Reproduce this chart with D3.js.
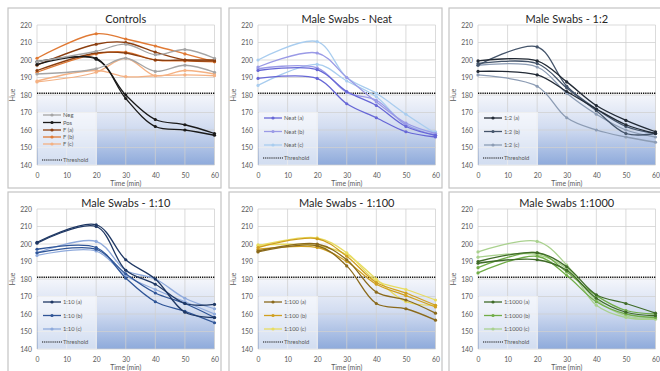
<!DOCTYPE html>
<html>
<head>
<meta charset="utf-8">
<script src="https://cdn.jsdelivr.net/npm/d3@7"></script>
<style>
  body { margin: 0; background: #fff; }
  svg { display: block; font-family: Lato, "Liberation Sans", Arial, sans-serif; }
</style>
</head>
<body>
<div id="chart"></div>
<script>
// Sampling times and axis ticks
const times = [0, 20, 30, 40, 50, 60];
const xTicks = [0, 10, 20, 30, 40, 50, 60];
const yTicks = [140, 150, 160, 170, 180, 190, 200, 210, 220];
const threshold = 181;

// Panel titles
const titles = ["Controls", "Male Swabs - Neat", "Male Swabs - 1:2",
                "Male Swabs - 1:10", "Male Swabs - 1:100", "Male Swabs 1:1000"];

// Legend labels per panel
const controlsNames = ["Neg", "Pos", "F (a)", "F (b)", "F (c)"];
const neatNames = ["Neat (a)", "Neat (b)", "Neat (c)"];
const half2Names = ["1:2 (a)", "1:2 (b)", "1:2 (c)"];
const tenNames = ["1:10 (a)", "1:10 (b)", "1:10 (c)"];
const hundredNames = ["1:100 (a)", "1:100 (b)", "1:100 (c)"];
const thousandNames = ["1:1000 (a)", "1:1000 (b)", "1:1000 (c)"];

// Colours per sample
const controlsColors = ["#a5a5a5", "#1a1a1a", "#8c3f10", "#e07a35", "#f4b183"];
const neatColors = ["#6767d6", "#9a9ae6", "#a9cdef"];
const half2Colors = ["#222a35", "#44546a", "#8c9cb4"];
const tenColors = ["#1f3864", "#2f5597", "#8faadc"];
const hundredColors = ["#8a6a1c", "#d0a020", "#e8dc60"];
const thousandColors = ["#3f6b28", "#70ad47", "#a9d18e"];

// Hue values, two replicates per sample
const controlsValues = [
  [[192, 195, 201, 193.5, 197, 193], [199, 205, 209, 203, 206, 201]],
  [[199, 200.5, 180, 166, 163, 158], [197.5, 201, 178, 162, 160, 157]],
  [[197, 209, 210, 204.5, 200, 199.5], [194, 204, 204, 200, 200, 200]],
  [[201, 215, 212, 208, 203.5, 199], [193, 203.5, 204.5, 200, 199.5, 199]],
  [[187.5, 193, 201, 191, 194, 192], [188, 194, 190.5, 191, 191.5, 191]]
];
const neatValues = [
  [[194, 194.5, 182, 174, 162, 157], [189.5, 189.5, 175, 167, 159, 156]],
  [[196, 204, 190, 176, 164, 158], [195, 195.5, 181.5, 177, 163, 157]],
  [[200, 210.5, 190, 181, 169, 158], [185.5, 197.5, 188, 179, 163, 159]]
];
const half2Values = [
  [[199.5, 199.5, 187.5, 174, 165.5, 159], [193.5, 191.5, 182, 172, 163, 158]],
  [[197, 207.5, 185, 172, 162, 158], [198, 198, 184, 171, 158, 158]],
  [[191.5, 185, 167, 160, 156, 153], [197, 196, 181, 169, 160, 156]]
];
const tenValues = [
  [[201, 211, 191, 180, 161, 158], [200.5, 210, 185, 177, 166, 165.5]],
  [[197, 198, 180.5, 167, 161.5, 155], [195, 197, 183, 172, 166, 158]],
  [[195, 201.5, 185, 180, 169, 163], [193.5, 196, 182, 174, 167, 160]]
];
const hundredValues = [
  [[196, 200, 191, 172.5, 168, 160.5], [195.5, 199, 187.5, 166, 163, 156.5]],
  [[198, 203, 193, 178, 172, 165], [197, 198, 190, 177, 170.5, 164]],
  [[199, 203.5, 195, 179, 174, 168], [199.5, 199, 194, 180, 167, 165]]
];
const thousandValues = [
  [[190, 195, 187, 171, 166, 160.5], [189, 191, 185, 169, 161, 159]],
  [[186.5, 195, 184, 170.5, 162, 160], [183.5, 193, 182, 167, 160, 158]],
  [[195.5, 201.5, 188, 165, 158, 157], [192.5, 194, 186, 168, 159, 157.5]]
];

const panels = [
  { names: controlsNames, colors: controlsColors, values: controlsValues },
  { names: neatNames, colors: neatColors, values: neatValues },
  { names: half2Names, colors: half2Colors, values: half2Values },
  { names: tenNames, colors: tenColors, values: tenValues },
  { names: hundredNames, colors: hundredColors, values: hundredValues },
  { names: thousandNames, colors: thousandColors, values: thousandValues }
];

const W = 660, H = 371;
const colX = [8, 229, 449], rowY = [8, 192];
const panelW = 213, panelH = 180;
const plotLeft = 29, plotW = 177.5, plotTop = 17, plotH = 140;

const svg = d3.select("#chart").append("svg")
    .attr("width", W)
    .attr("height", H);

// Gradient for the region below the threshold
const defs = svg.append("defs");
const grad = defs.append("linearGradient")
    .attr("id", "belowGrad")
    .attr("x1", 0).attr("y1", 0).attr("x2", 0).attr("y2", 1);
grad.append("stop").attr("offset", "0%").attr("stop-color", "#f4f6fb");
grad.append("stop").attr("offset", "45%").attr("stop-color", "#d3ddf1");
grad.append("stop").attr("offset", "100%").attr("stop-color", "#8eaadb");

const x = d3.scaleLinear().domain([0, 60]).range([0, plotW]);
const y = d3.scaleLinear().domain([140, 220]).range([plotH, 0]);

const line = d3.line()
    .x((d, i) => x(times[i]))
    .y(d => y(d))
    .curve(d3.curveCatmullRom.alpha(0.5));

panels.forEach((p, idx) => {
  const px = colX[idx % 3], py = rowY[Math.floor(idx / 3)];
  const panel = svg.append("g").attr("transform", "translate(" + px + "," + py + ")");

  // Panel frame
  panel.append("rect")
      .attr("x", 0).attr("y", 0)
      .attr("width", panelW).attr("height", panelH)
      .attr("fill", "#fff")
      .attr("stroke", "#c4c4c4")
      .attr("stroke-width", 1.2);

  panel.append("text")
      .attr("x", plotLeft + plotW / 2)
      .attr("y", 14.5)
      .attr("text-anchor", "middle")
      .attr("font-size", 11)
      .attr("fill", "#262626")
      .text(titles[idx]);

  const g = panel.append("g").attr("transform", "translate(" + plotLeft + "," + plotTop + ")");

  // Shaded area under 180
  g.append("rect")
      .attr("x", 0).attr("y", y(180))
      .attr("width", plotW).attr("height", y(140) - y(180))
      .attr("fill", "url(#belowGrad)");

  // Gridlines
  g.append("g").selectAll("line.h")
      .data(yTicks).enter().append("line")
      .attr("x1", 0).attr("x2", plotW)
      .attr("y1", d => y(d)).attr("y2", d => y(d))
      .attr("stroke", "#d0d0d0").attr("stroke-opacity", 0.85).attr("stroke-width", 0.9);
  g.append("g").selectAll("line.v")
      .data(xTicks).enter().append("line")
      .attr("y1", 0).attr("y2", plotH)
      .attr("x1", d => x(d)).attr("x2", d => x(d))
      .attr("stroke", "#d0d0d0").attr("stroke-opacity", 0.85).attr("stroke-width", 0.9);

  // Axes (labels only)
  const yAxis = g.append("g").call(d3.axisLeft(y).tickValues(yTicks).tickSize(0).tickPadding(5));
  const xAxis = g.append("g").attr("transform", "translate(0," + plotH + ")")
      .call(d3.axisBottom(x).tickValues(xTicks).tickSize(0).tickPadding(8));
  [yAxis, xAxis].forEach(a => {
    a.select(".domain").remove();
    a.selectAll("text").attr("font-size", 6.8).attr("fill", "#595959")
        .attr("font-family", "Lato, Liberation Sans, Arial, sans-serif");
  });

  g.append("text")
      .attr("x", plotW / 2).attr("y", plotH + 21)
      .attr("text-anchor", "middle")
      .attr("font-size", 6.8).attr("fill", "#595959")
      .text("Time (min)");
  g.append("text")
      .attr("transform", "translate(-22," + (plotH / 2) + ") rotate(-90)")
      .attr("text-anchor", "middle")
      .attr("font-size", 6.8).attr("fill", "#595959")
      .text("Hue");

  // Threshold
  g.append("line")
      .attr("x1", 0).attr("x2", plotW)
      .attr("y1", y(threshold)).attr("y2", y(threshold))
      .attr("stroke", "#111").attr("stroke-width", 1.5)
      .attr("stroke-dasharray", "1.3,0.9");

  // Series, drawn last sample first
  for (let s = p.values.length - 1; s >= 0; s--) {
    p.values[s].forEach(rep => {
      g.append("path")
          .datum(rep)
          .attr("d", line)
          .attr("fill", "none")
          .attr("stroke", p.colors[s])
          .attr("stroke-width", 1.3);
      g.append("g").selectAll("circle")
          .data(rep).enter().append("circle")
          .attr("cx", (d, i) => x(times[i]))
          .attr("cy", d => y(d))
          .attr("r", 1.6)
          .attr("fill", p.colors[s]);
    });
  }

  // Legend
  const isControls = p.names.length > 3;
  const rowYs = isControls ? [90, 97.5, 105, 112, 119, 135] : [93, 106.5, 120, 133];
  const leg = g.append("g");
  leg.append("rect")
      .attr("x", 1).attr("y", 87)
      .attr("width", 59).attr("height", plotH - 87)
      .attr("fill", "#fff").attr("fill-opacity", 0.6);
  p.names.forEach((name, i) => {
    const ly = rowYs[i];
    leg.append("line")
        .attr("x1", 6).attr("x2", 24).attr("y1", ly).attr("y2", ly)
        .attr("stroke", p.colors[i]).attr("stroke-width", 1.3);
    leg.append("circle")
        .attr("cx", 15).attr("cy", ly).attr("r", 1.6)
        .attr("fill", p.colors[i]);
    leg.append("text")
        .attr("x", 26).attr("y", ly).attr("dy", "0.35em")
        .attr("font-size", 5.8).attr("fill", "#595959")
        .text(name);
  });
  const ty = rowYs[rowYs.length - 1];
  leg.append("line")
      .attr("x1", 5).attr("x2", 25).attr("y1", ty).attr("y2", ty)
      .attr("stroke", "#111").attr("stroke-width", 1.2)
      .attr("stroke-dasharray", "1.2,0.9");
  leg.append("text")
      .attr("x", 26).attr("y", ty).attr("dy", "0.35em")
      .attr("font-size", 5.8).attr("fill", "#595959")
      .text("Threshold");
});
</script>
</body>
</html>
